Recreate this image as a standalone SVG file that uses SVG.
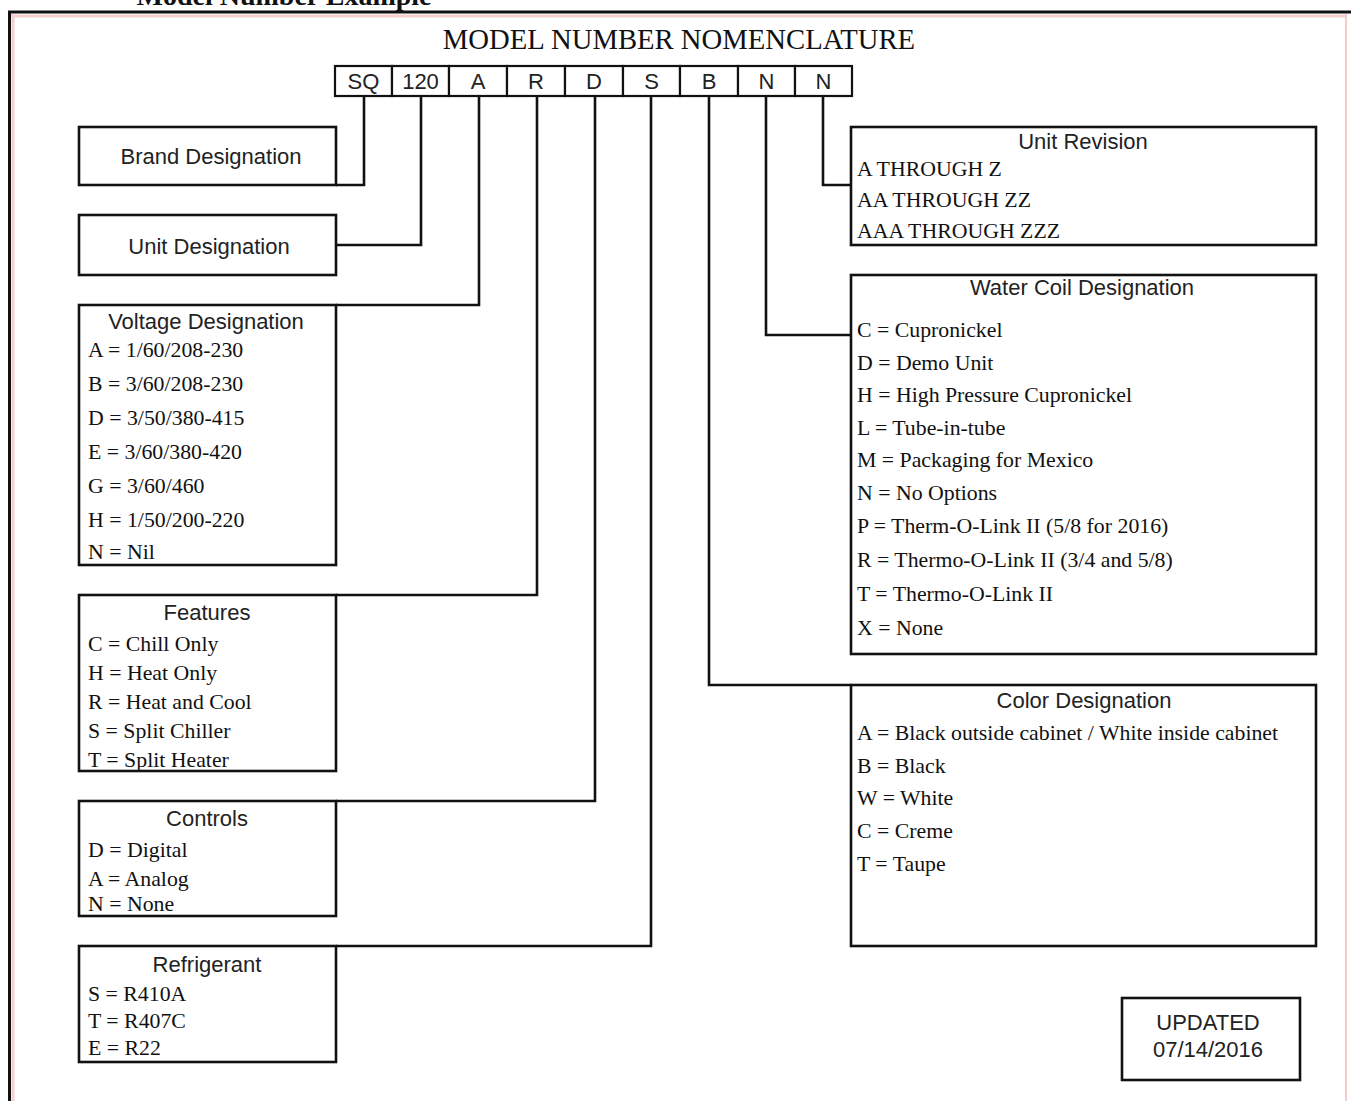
<svg xmlns="http://www.w3.org/2000/svg" width="1351" height="1101" viewBox="0 0 1351 1101">
<style>
.box{fill:#fff;stroke:#111;stroke-width:2.6}
.cell{fill:#fff;stroke:#111;stroke-width:2.2}
.conn{fill:none;stroke:#111;stroke-width:2.6;stroke-linejoin:miter}
.hd{font-family:"Liberation Sans",Arial,sans-serif;font-size:22px;fill:#222;text-anchor:middle}
.code{font-family:"Liberation Sans",Arial,sans-serif;font-size:22px;fill:#222;text-anchor:middle}
.it{font-family:"Liberation Serif","Times New Roman",serif;font-size:21.8px;fill:#111}
.ttl{font-family:"Liberation Serif","Times New Roman",serif;font-size:28.7px;fill:#111;text-anchor:middle}
</style>
<rect width="1351" height="1101" fill="#fff"/>
<text x="284" y="5" font-family="'Liberation Serif','Times New Roman',serif" font-weight="bold" font-size="28" text-anchor="middle" fill="#111">Model Number Example</text>
<g id="frame">
<line x1="10" y1="16" x2="1346" y2="16" stroke="#f6d0d0" stroke-width="3"/>
<line x1="13" y1="14" x2="13" y2="1101" stroke="#f6d0d0" stroke-width="3"/>
<line x1="1346" y1="14" x2="1346" y2="1101" stroke="#f6c8c8" stroke-width="2"/>
<line x1="8" y1="12" x2="1351" y2="12" stroke="#111" stroke-width="3"/>
<line x1="9.5" y1="11" x2="9.5" y2="1101" stroke="#111" stroke-width="3"/>
</g>
<text class="ttl" x="679" y="49">MODEL NUMBER NOMENCLATURE</text>
<g id="codes">
<rect class="cell" x="335" y="66" width="57" height="30"/><text class="code" x="363.5" y="89">SQ</text>
<rect class="cell" x="392" y="66" width="57" height="30"/><text class="code" x="420.5" y="89">120</text>
<rect class="cell" x="449" y="66" width="58" height="30"/><text class="code" x="478" y="89">A</text>
<rect class="cell" x="507" y="66" width="58" height="30"/><text class="code" x="536" y="89">R</text>
<rect class="cell" x="565" y="66" width="58" height="30"/><text class="code" x="594" y="89">D</text>
<rect class="cell" x="623" y="66" width="57" height="30"/><text class="code" x="651.5" y="89">S</text>
<rect class="cell" x="680" y="66" width="58" height="30"/><text class="code" x="709" y="89">B</text>
<rect class="cell" x="738" y="66" width="57" height="30"/><text class="code" x="766.5" y="89">N</text>
<rect class="cell" x="795" y="66" width="57" height="30"/><text class="code" x="823.5" y="89">N</text>
</g>
<g id="connectors">
<polyline class="conn" points="364,96 364,185 336,185"/>
<polyline class="conn" points="421,96 421,245 336,245"/>
<polyline class="conn" points="479,96 479,305 336,305"/>
<polyline class="conn" points="537,96 537,595 336,595"/>
<polyline class="conn" points="595,96 595,801 336,801"/>
<polyline class="conn" points="651,96 651,946 336,946"/>
<polyline class="conn" points="709,96 709,685 851,685"/>
<polyline class="conn" points="766,96 766,335 851,335"/>
<polyline class="conn" points="823,96 823,185 851,185"/>
</g>
<g id="brand">
<rect class="box" x="79" y="127" width="257" height="58"/>
<text class="hd" x="211" y="164">Brand Designation</text>
</g>
<g id="unit">
<rect class="box" x="79" y="215" width="257" height="60"/>
<text class="hd" x="209" y="254">Unit Designation</text>
</g>
<g id="voltage">
<rect class="box" x="79" y="305" width="257" height="260"/>
<text class="hd" x="206" y="329">Voltage Designation</text>
<text class="it" x="88" y="357">A = 1/60/208-230</text>
<text class="it" x="88" y="391">B = 3/60/208-230</text>
<text class="it" x="88" y="425">D = 3/50/380-415</text>
<text class="it" x="88" y="459">E = 3/60/380-420</text>
<text class="it" x="88" y="493">G = 3/60/460</text>
<text class="it" x="88" y="527">H = 1/50/200-220</text>
<text class="it" x="88" y="559">N = Nil</text>
</g>
<g id="features">
<rect class="box" x="79" y="595" width="257" height="176"/>
<text class="hd" x="207" y="620">Features</text>
<text class="it" x="88" y="651">C = Chill Only</text>
<text class="it" x="88" y="680">H = Heat Only</text>
<text class="it" x="88" y="709">R = Heat and Cool</text>
<text class="it" x="88" y="738">S = Split Chiller</text>
<text class="it" x="88" y="767">T = Split Heater</text>
</g>
<g id="controls">
<rect class="box" x="79" y="801" width="257" height="115"/>
<text class="hd" x="207" y="826">Controls</text>
<text class="it" x="88" y="857">D = Digital</text>
<text class="it" x="88" y="886">A = Analog</text>
<text class="it" x="88" y="911">N = None</text>
</g>
<g id="refrigerant">
<rect class="box" x="79" y="946" width="257" height="116"/>
<text class="hd" x="207" y="972">Refrigerant</text>
<text class="it" x="88" y="1001">S = R410A</text>
<text class="it" x="88" y="1028">T = R407C</text>
<text class="it" x="88" y="1055">E = R22</text>
</g>
<g id="revision">
<rect class="box" x="851" y="127" width="465" height="118"/>
<text class="hd" x="1083" y="149">Unit Revision</text>
<text class="it" x="857" y="176">A THROUGH Z</text>
<text class="it" x="857" y="207">AA THROUGH ZZ</text>
<text class="it" x="857" y="238">AAA THROUGH ZZZ</text>
</g>
<g id="watercoil">
<rect class="box" x="851" y="275" width="465" height="379"/>
<text class="hd" x="1082" y="295">Water Coil Designation</text>
<text class="it" x="857" y="337">C = Cupronickel</text>
<text class="it" x="857" y="370">D = Demo Unit</text>
<text class="it" x="857" y="402">H = High Pressure Cupronickel</text>
<text class="it" x="857" y="435">L = Tube-in-tube</text>
<text class="it" x="857" y="467">M = Packaging for Mexico</text>
<text class="it" x="857" y="500">N = No Options</text>
<text class="it" x="857" y="533">P = Therm-O-Link II (5/8 for 2016)</text>
<text class="it" x="857" y="567">R = Thermo-O-Link II (3/4 and 5/8)</text>
<text class="it" x="857" y="601">T = Thermo-O-Link II</text>
<text class="it" x="857" y="635">X = None</text>
</g>
<g id="color">
<rect class="box" x="851" y="685" width="465" height="261"/>
<text class="hd" x="1084" y="708">Color Designation</text>
<text class="it" x="857" y="740">A = Black outside cabinet / White inside cabinet</text>
<text class="it" x="857" y="773">B = Black</text>
<text class="it" x="857" y="805">W = White</text>
<text class="it" x="857" y="838">C = Creme</text>
<text class="it" x="857" y="871">T = Taupe</text>
</g>
<g id="updated">
<rect class="box" x="1122" y="998" width="178" height="82"/>
<text class="hd" x="1208" y="1030">UPDATED</text>
<text class="hd" x="1208" y="1057">07/14/2016</text>
</g>
</svg>
